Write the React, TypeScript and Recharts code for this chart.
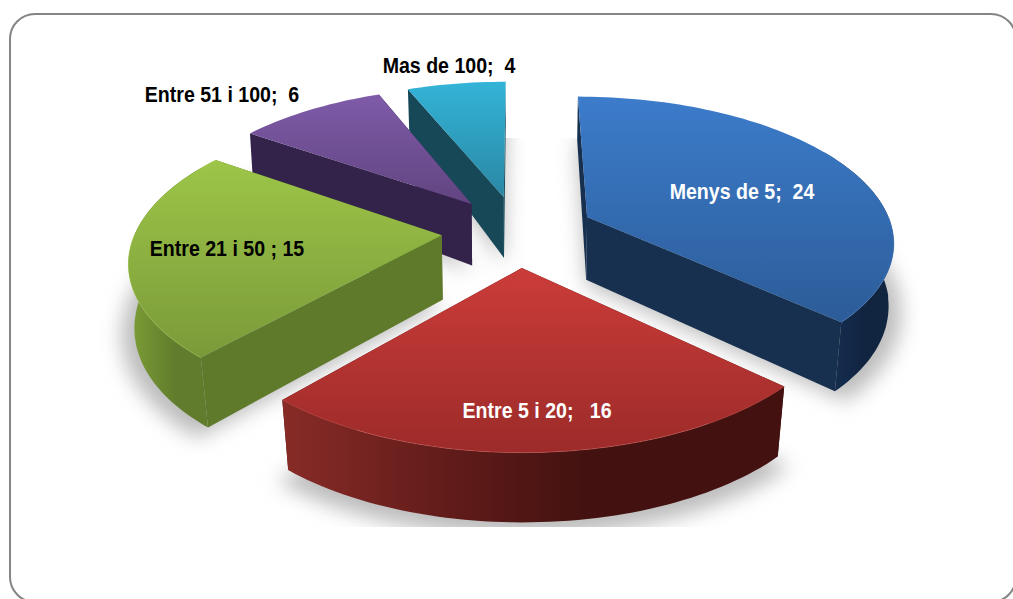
import React from "react";
import { PieChart, Pie } from "recharts";

const NAMES = ["Menys de 5", "Entre 5 i 20", "Entre 21 i 50 ", "Entre 51 i 100", "Mas de 100"];
const VALUES = [24, 16, 15, 6, 4];
const SEPARATORS = [";  ", ";   ", "; ", ";  ", ";  "];
const LABEL_COLORS = ["#ffffff", "#ffffff", "#000000", "#000000", "#000000"];
const LABEL_ANCHORS = [[742, 199], [537, 418], [227, 256], [222, 102], [449, 73]];
const TOP_COLORS = [["#3c7ccb", "#2c5c98"], ["#cb3c39", "#9c2b29"], ["#9dc548", "#7a9a39"], ["#7f5ba9", "#614480"], ["#33b4d8", "#2a87a3"]];
const FLAT_WALLS = ["#173050", "#4a1311", "#5f7a2b", "#33234a", "#164858"];
const CURVE_WALLS = [
  ["#16304f", "#13294a", "#112440"],
  ["#882b27", "#5f1b19", "#431210"],
  ["#7e9e37", "#6c8a30", "#617c2c"],
  ["#33234a", "#33234a", "#33234a"],
  ["#164858", "#164858", "#164858"],
];
const RIMS = ["#4a86cf", "#d9605a", "#a9cf55", "#8a68b5", "#45bfe0"];

// Painted back to front: the pie runs counter-clockwise from the top over the reversed list.
const data = NAMES.map((name, i) => ({ name, value: VALUES[i] })).reverse();

const CX = 518;
const CY = 231;
const RADIUS = 306;
const RY_RATIO = 143 / 306;
const PERSPECTIVE = 0.155;
const EXPLODE = 0.25;

type Pt = [number, number];
const rad = (d: number) => (d * Math.PI) / 180;
const wallHeight = (v: number) => 64 - 12.1 * v - 6 * v * v;
const converge = (v: number) => (v < 0 ? 0.987 + 0.012 * v : 0.988);

function projector(cx: number, cy: number, R: number, start: number, end: number) {
  const mid = rad((start + end) / 2);
  const ou = Math.sin(mid) * EXPLODE;
  const ov = Math.cos(mid) * EXPLODE;
  const at = (theta: number, r: number) => {
    const u = ou + Math.sin(rad(theta)) * r;
    const v = ov + Math.cos(rad(theta)) * r;
    const w = 1 + PERSPECTIVE * v;
    return { x: cx + (R * u) / w, y: cy - (R * RY_RATIO * v) / w, v };
  };
  const top = (theta: number, r = 1): Pt => {
    const p = at(theta, r);
    return [p.x, p.y];
  };
  const bottom = (theta: number, r = 1): Pt => {
    const p = at(theta, r);
    return [cx + (p.x - cx) * converge(p.v), p.y + wallHeight(p.v)];
  };
  return { top, bottom, at };
}

const toPath = (pts: Pt[], close = true) =>
  pts.map((p, i) => `${i ? "L" : "M"}${p[0].toFixed(1)},${p[1].toFixed(1)}`).join("") + (close ? "Z" : "");

function arcAngles(a: number, b: number) {
  const out: number[] = [];
  const n = Math.max(2, Math.ceil((b - a) / 1.5));
  for (let i = 0; i <= n; i++) out.push(a + ((b - a) * i) / n);
  return out;
}

function sliceAngles(startAngle: number, endAngle: number) {
  // Recharts gives math angles from 90 to 450 here; turn them into clockwise-from-top.
  const a = 90 - startAngle + 360;
  const b = 90 - endAngle + 360;
  return [Math.min(a, b), Math.max(a, b)];
}

function Slice3D(props: any) {
  const { cx, cy, outerRadius, startAngle, endAngle, name } = props;
  const idx = NAMES.indexOf(name);
  const [a, b] = sliceAngles(startAngle, endAngle);
  const { top, bottom, at } = projector(cx, cy, outerRadius, a, b);
  const angles = arcAngles(a, b);
  const topFace = toPath([top(a, 0), ...angles.map((t) => top(t))]);
  const wall = (t: number) => toPath([top(t, 0), top(t), bottom(t), bottom(t, 0)]);
  const edges = [a, b].sort((p, q) => at(q, 1).v - at(p, 1).v);
  const fa = Math.max(a, 60);
  const fb = Math.min(b, 300);
  const hasCurve = fb > fa && a < 280;
  const front = hasCurve ? arcAngles(fa, fb) : [];
  const curve = hasCurve
    ? toPath([...front.map((t) => top(t)), ...[...front].reverse().map((t) => bottom(t))])
    : "";
  const rimAngles = hasCurve ? arcAngles(Math.max(a, 90), Math.min(b, 270)) : [];
  const rim = rimAngles.length ? toPath(rimAngles.map((t) => top(t)), false) : "";
  const tid = `top-${idx}`;
  const cid = `curve-${idx}`;
  return (
    <g>
      <defs>
        <linearGradient id={tid} x1="0" y1="0" x2="0" y2="1">
          <stop offset="0" stopColor={TOP_COLORS[idx][0]} />
          <stop offset="1" stopColor={TOP_COLORS[idx][1]} />
        </linearGradient>
        <linearGradient id={cid} x1="0" y1="0" x2="1" y2="0">
          <stop offset="0" stopColor={CURVE_WALLS[idx][0]} />
          <stop offset="0.35" stopColor={CURVE_WALLS[idx][1]} />
          <stop offset="0.6" stopColor={CURVE_WALLS[idx][2]} />
          <stop offset="1" stopColor={CURVE_WALLS[idx][2]} />
        </linearGradient>
      </defs>
      {edges.map((t) => (
        <path key={t} d={wall(t)} fill={FLAT_WALLS[idx]} />
      ))}
      {hasCurve && <path d={curve} fill={`url(#${cid})`} />}
      <path d={topFace} fill={`url(#${tid})`} />
      {rim && <path d={rim} fill="none" stroke={RIMS[idx]} strokeWidth={1} strokeOpacity={0.45} />}
    </g>
  );
}

function SliceShadow(props: any) {
  const { cx, cy, outerRadius, startAngle, endAngle, name } = props;
  const idx = NAMES.indexOf(name);
  const [a, b] = sliceAngles(startAngle, endAngle);
  const { bottom } = projector(cx, cy, outerRadius, a, b);
  const pts = [bottom(a, 0), ...arcAngles(a, b).map((t) => bottom(t, 1.04))];
  return (
    <g clipPath="url(#shadow-clip)">
      <defs>
        <filter id={`shadow-blur-${idx}`} x="-20%" y="-20%" width="140%" height="140%">
          <feGaussianBlur stdDeviation="10" />
        </filter>
        <clipPath id="shadow-clip">
          <rect x="0" y="138" width="1013" height="389" />
        </clipPath>
      </defs>
      <path d={toPath(pts)} transform="translate(0,5)" fill="#bcbcbc" filter={`url(#shadow-blur-${idx})`} />
    </g>
  );
}

function renderLabel(props: any) {
  const idx = NAMES.indexOf(props.name);
  const [x, y] = LABEL_ANCHORS[idx];
  return (
    <text
      transform={`translate(${x},${y}) scale(0.89,1)`}
      textAnchor="middle"
      fill={LABEL_COLORS[idx]}
      fontFamily="'Liberation Sans', Arial, sans-serif"
      fontWeight={700}
      fontSize={22}
      style={{ whiteSpace: "pre" }}
    >
      {`${NAMES[idx]}${SEPARATORS[idx]}${VALUES[idx]}`}
    </text>
  );
}

export default function App() {
  return (
    <div style={{ position: "absolute", left: 0, top: 0, width: 1013, height: 599, overflow: "hidden", background: "#fff" }}>
      <div
        style={{
          position: "absolute",
          left: 9,
          top: 13,
          width: 1008,
          height: 590,
          boxSizing: "border-box",
          border: "2px solid #858585",
          borderRadius: 26,
        }}
      />
      <div style={{ position: "absolute", left: 0, top: 0 }}>
        <PieChart width={1013} height={599} margin={{ top: 0, right: 0, bottom: 0, left: 0 }}>
          <Pie
            data={data}
            dataKey="value"
            nameKey="name"
            cx={CX}
            cy={CY}
            outerRadius={RADIUS}
            startAngle={90}
            endAngle={450}
            isAnimationActive={false}
            stroke="none"
            shape={SliceShadow}
            label={false}
            labelLine={false}
          />
          <Pie
            data={data}
            dataKey="value"
            nameKey="name"
            cx={CX}
            cy={CY}
            outerRadius={RADIUS}
            startAngle={90}
            endAngle={450}
            isAnimationActive={false}
            stroke="none"
            shape={Slice3D}
            label={renderLabel}
            labelLine={false}
          />
        </PieChart>
      </div>
    </div>
  );
}
